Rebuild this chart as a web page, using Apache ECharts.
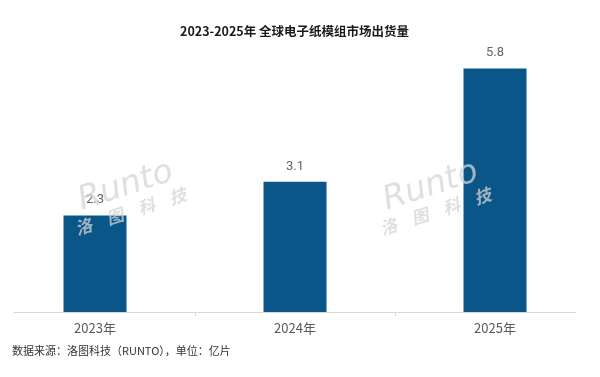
<!DOCTYPE html>
<html>
<head>
<meta charset="utf-8">
<script src="https://cdn.jsdelivr.net/npm/echarts@6/dist/echarts.min.js"></script>
<style>
  html, body { margin: 0; padding: 0; background: #fff; }
  #main { width: 600px; height: 377px; }
</style>
</head>
<body>
<div id="main"></div>
<script>
const years = [2023, 2024, 2025]
const shipments = [2.3, 3.1, 5.8]
const yearTicks = [2023.5, 2024.5]

const chart = echarts.init(document.getElementById('main'))

// faint "Runto 洛图科技" watermark, tilted upward to the right
function watermark(ox, oy) {
  const wmColor = 'rgba(212,212,212,0.75)'
  const ang = Math.PI / 10
  const place = (lx, ly) => [
    ox + lx * Math.cos(ang) + ly * Math.sin(ang),
    oy - lx * Math.sin(ang) + ly * Math.cos(ang)
  ]
  const items = [{ t: 'Runto', lx: 0, ly: 0, font: 'italic 33px "DejaVu Sans"' }]
  ;['洛', '图', '科', '技'].forEach((c, i) => {
    items.push({ t: c, lx: -12 + i * 33, ly: 33, font: 'italic bold 17px "Noto Sans CJK SC"' })
  })
  return items.map((it) => {
    const p = place(it.lx, it.ly)
    return {
      type: 'text',
      x: p[0],
      y: p[1],
      rotation: ang,
      z: 100,
      silent: true,
      style: { text: it.t, font: it.font, fill: wmColor }
    }
  })
}

const options = {
  animation: false,
  title: {
    text: '2023-2025年 全球电子纸模组市场出货量',
    left: 175,
    top: 20,
    textStyle: {
      fontFamily: '"Noto Sans CJK SC"',
      fontSize: 12.5,
      fontWeight: 'bold',
      color: '#1a1a1a'
    }
  },
  grid: {
    left: 14,
    right: 24,
    top: 60,
    bottom: 65
  },
  xAxis: {
    type: 'value',
    min: 2022.595,
    max: 2025.405,
    splitLine: { show: false },
    axisLine: { show: true, lineStyle: { color: '#d9d9d9', width: 1 } },
    axisTick: {
      show: true,
      customValues: yearTicks,
      length: 4,
      lineStyle: { color: '#d9d9d9' }
    },
    axisLabel: {
      customValues: years,
      formatter: (v) => v + '年',
      margin: 10,
      fontFamily: '"Noto Sans CJK SC"',
      fontSize: 13,
      color: '#595959'
    }
  },
  yAxis: {
    type: 'value',
    min: 0,
    max: 6,
    show: false
  },
  series: [
    {
      type: 'bar',
      data: years.map((y, i) => [y, shipments[i]]),
      barWidth: 63,
      itemStyle: { color: '#0a5689' },
      label: {
        show: true,
        position: 'top',
        distance: 9,
        formatter: (p) => p.value[1].toFixed(1),
        fontFamily: 'Roboto',
        fontSize: 13,
        color: '#666'
      }
    }
  ],
  graphic: watermark(74, 186).concat(watermark(379, 186)).concat([
    {
      type: 'text',
      left: 12,
      top: 345,
      style: {
        text: '数据来源：洛图科技（RUNTO），单位：亿片',
        font: '11px "Noto Sans CJK SC"',
        fill: '#333'
      }
    }
  ])
}

chart.setOption(options)
</script>
</body>
</html>
